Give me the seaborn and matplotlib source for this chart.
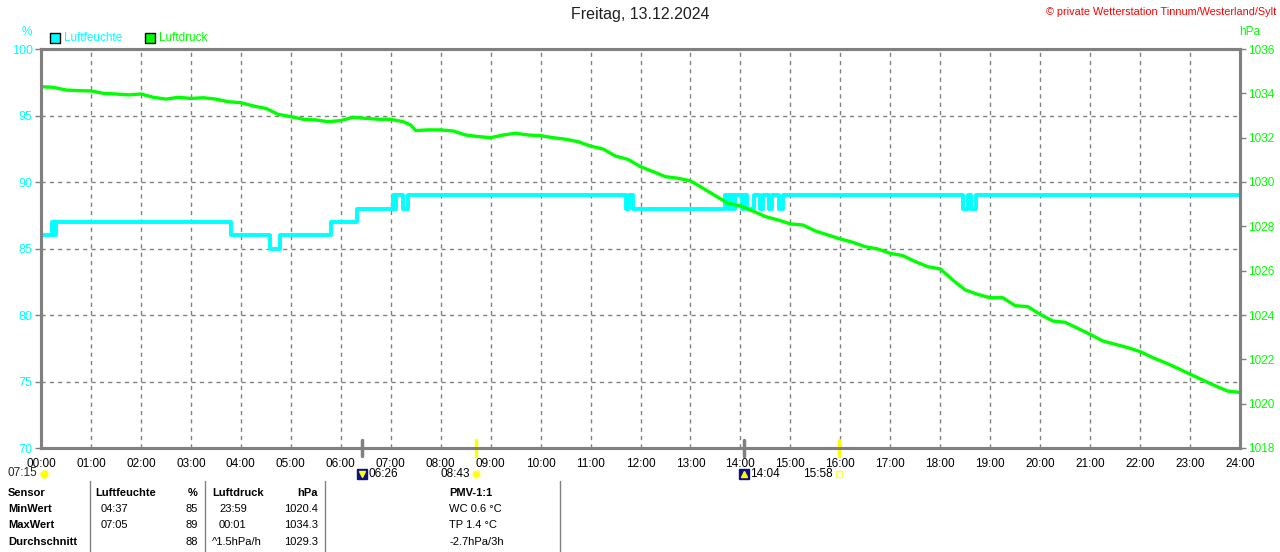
import matplotlib
matplotlib.use("Agg")
import matplotlib.pyplot as plt
import matplotlib.transforms as mtransforms
from matplotlib.lines import Line2D
from matplotlib.patches import Rectangle
import seaborn as sns
import pandas as pd

# ---------------- data ----------------
hour_ticks = list(range(0, 25))
hour_labels = [f"{h:02d}:00" for h in hour_ticks]

hum_t = [0.0, 0.22, 0.27, 0.31, 3.80, 4.58, 4.78, 5.80, 6.33,
         7.05, 7.09, 7.11, 7.24, 7.35, 11.71, 11.76, 11.84,
         13.69, 13.76, 13.79, 13.86, 13.90, 14.04, 14.08, 14.14, 14.28,
         14.40, 14.46, 14.57, 14.64, 14.77, 14.86,
         18.46, 18.55, 18.62, 18.72, 23.98]
hum_v = [86, 87, 86, 87, 86, 85, 86, 87, 88,
         89, 88, 89, 88, 89, 88, 89, 88,
         89, 88, 89, 88, 89, 88, 89, 88, 89,
         88, 89, 88, 89, 88, 89,
         88, 89, 88, 89, 89]

p_t = [0.0, 0.25, 0.5, 0.75, 1.0, 1.25, 1.5, 1.75, 2.0, 2.25, 2.5, 2.75,
       3.0, 3.25, 3.5, 3.75, 4.0, 4.25, 4.5, 4.75, 5.0, 5.25, 5.5, 5.75,
       6.0, 6.25, 6.5, 6.75, 7.0, 7.25, 7.4, 7.5, 7.75,
       8.0, 8.25, 8.5, 8.75, 9.0, 9.25, 9.5, 9.75, 10.0, 10.25, 10.5, 10.75,
       11.0, 11.25, 11.5, 11.75, 12.0, 12.25, 12.5, 12.75, 13.0, 13.25, 13.5,
       13.75, 14.0, 14.25, 14.5, 14.75, 15.0, 15.25, 15.5, 15.75,
       16.0, 16.25, 16.5, 16.75, 17.0, 17.25, 17.5, 17.75, 18.0, 18.25, 18.5,
       18.75, 19.0, 19.25, 19.5, 19.75, 20.0, 20.25, 20.5, 20.75, 21.0, 21.25,
       21.5, 21.75, 22.0, 22.25, 22.5, 22.75, 23.0, 23.25, 23.5, 23.75, 23.98]
p_v = [1034.30, 1034.27, 1034.15, 1034.12, 1034.11, 1034.00, 1033.97, 1033.93,
       1033.97, 1033.82, 1033.74, 1033.82, 1033.77, 1033.80, 1033.74, 1033.62,
       1033.58, 1033.43, 1033.32, 1033.05, 1032.95, 1032.83, 1032.80, 1032.72,
       1032.77, 1032.92, 1032.87, 1032.83, 1032.83, 1032.72, 1032.57, 1032.32,
       1032.35,
       1032.35, 1032.30, 1032.12, 1032.05, 1032.00, 1032.12, 1032.20, 1032.12,
       1032.09, 1032.00, 1031.93, 1031.82, 1031.62, 1031.49, 1031.17, 1031.02,
       1030.69, 1030.47, 1030.24, 1030.17, 1030.05, 1029.72, 1029.38, 1029.04,
       1028.92, 1028.69, 1028.44, 1028.29, 1028.11, 1028.06, 1027.79, 1027.61,
       1027.43, 1027.28, 1027.08, 1026.98, 1026.78, 1026.68, 1026.41, 1026.18,
       1026.08, 1025.58, 1025.13, 1024.93, 1024.78, 1024.78, 1024.42, 1024.38,
       1024.03, 1023.73, 1023.67, 1023.40, 1023.13, 1022.83, 1022.68, 1022.53,
       1022.35, 1022.08, 1021.85, 1021.60, 1021.33, 1021.07, 1020.81, 1020.57,
       1020.51]

hum_ticks = [70, 75, 80, 85, 90, 95, 100]
p_ticks = [1018, 1020, 1022, 1024, 1026, 1028, 1030, 1032, 1034, 1036]

# sun / moon events
event_times = [6 + 26 / 60, 8 + 43 / 60, 14 + 4 / 60, 15 + 58 / 60]
event_labels = ["06:26", "08:43", "14:04", "15:58"]
event_kinds = ["moon", "sun", "moon", "sun"]
daylen_label = "07:15"

title = "Freitag, 13.12.2024"
copyright_text = "\u00a9 private Wetterstation Tinnum/Westerland/Sylt"

table_rows = [
    ["Sensor", "Luftfeuchte", "%", "Luftdruck", "hPa", "PMV-1:1"],
    ["MinWert", "04:37", "85", "23:59", "1020.4", "WC 0.6 \u00b0C"],
    ["MaxWert", "07:05", "89", "00:01", "1034.3", "TP 1.4 \u00b0C"],
    ["Durchschnitt", "", "88", "^1.5hPa/h", "1029.3", "-2.7hPa/3h"],
]

# ---------------- style ----------------
sns.set_theme(style="white")
plt.rcParams["font.family"] = ["Liberation Sans", "DejaVu Sans"]

CYAN = "#00FFFF"
GREEN = "#00FF00"
GRAY = "#808080"

W, H = 1280, 552
fig = plt.figure(figsize=(W / 100, H / 100), dpi=100)
fig.patch.set_facecolor("white")

def fx(px):
    return px / W

def fy(py):
    return 1 - py / H

ax = fig.add_axes([fx(41), fy(448), fx(1240) - fx(41), fy(49) - fy(448)])
ax.set_facecolor("white")
ax2 = ax.twinx()

hum_df = pd.DataFrame({"t": hum_t, "v": hum_v})
p_df = pd.DataFrame({"t": p_t, "v": p_v})

sns.lineplot(data=hum_df, x="t", y="v", ax=ax, color=CYAN, linewidth=2.8,
             drawstyle="steps-post", estimator=None, legend=False)
sns.lineplot(data=p_df, x="t", y="v", ax=ax2, color=GREEN, linewidth=2.4,
             estimator=None, legend=False)

ax.set_xlim(0, 24)
ax.set_ylim(70, 100)
ax2.set_ylim(1018, 1036)
ax.set_xlabel("")
ax.set_ylabel("")
ax2.set_ylabel("")

ax.set_xticks(hour_ticks)
ax.set_xticklabels(hour_labels)
ax.set_yticks(hum_ticks)
ax.set_yticklabels([str(v) for v in hum_ticks])
ax2.set_yticks(p_ticks)
ax2.set_yticklabels([str(v) for v in p_ticks])

ax.tick_params(axis="x", length=0, pad=7, labelsize=8.5, labelcolor="black")
ax.tick_params(axis="y", left=True, length=4, width=1, color=GRAY, pad=2,
               labelsize=9, labelcolor=CYAN)
ax2.tick_params(axis="y", right=True, length=4, width=1, color=GRAY, pad=2,
                labelsize=8.5, labelcolor=GREEN)

ax.grid(True, axis="both", color=GRAY, linestyle=(0, (3, 3)), linewidth=1)
ax.set_axisbelow(True)
ax2.grid(False)

for a in (ax, ax2):
    for s in a.spines.values():
        s.set_color(GRAY)
        s.set_linewidth(2.2)
        s.set_visible(True)

# events under the x axis
trans = mtransforms.blended_transform_factory(ax.transData, ax.transAxes)
for t, lab, kind in zip(event_times, event_labels, event_kinds):
    col = GRAY if kind == "moon" else "#FFFF00"
    ax.plot([t, t], [-0.02, 0.02], transform=trans, color=col, linewidth=2.5,
            clip_on=False, zorder=5)
    if kind == "moon":
        ax.plot([t], [-0.064], transform=trans, marker="s", markersize=7,
                color="#101080", clip_on=False)
        ax.plot([t], [-0.064], transform=trans, marker="v" if t < 12 else "^",
                markersize=4, color="#FFFF00", clip_on=False)
        ax.text(t + 0.12, -0.064, lab, transform=trans, ha="left", va="center",
                fontsize=8.5, color="black")
    else:
        ax.plot([t], [-0.064], transform=trans, marker="o" if t < 12 else "s",
                markersize=5 if t < 12 else 4,
                markerfacecolor="#FFFF00" if t < 12 else "none",
                markeredgecolor="#FFFF40", clip_on=False)
        ax.text(t - 0.12, -0.064, lab, transform=trans, ha="right", va="center",
                fontsize=8.5, color="black")

fig.text(fx(37), fy(473), daylen_label, ha="right", va="center", fontsize=8.5)
fig.add_artist(Line2D([fx(44)], [fy(474)], marker="o", markersize=5,
                      color="#FFFF00", transform=fig.transFigure))

# title, copyright, units, legend
fig.text(0.5, fy(15), title, ha="center", va="center", fontsize=11.5, color="#202020")
fig.text(fx(1276), fy(12), copyright_text, ha="right", va="center",
         fontsize=7.8, color="#FF0000")
fig.text(fx(27), fy(32), "%", ha="center", va="center", fontsize=8.5, color=CYAN)
fig.text(fx(1250), fy(32), "hPa", ha="center", va="center", fontsize=8.5, color=GREEN)

for x0, col, lab in [(50, CYAN, "Luftfeuchte"), (145, GREEN, "Luftdruck")]:
    fig.add_artist(Rectangle((fx(x0), fy(43)), fx(10), fy(33) - fy(43),
                             facecolor=col, edgecolor="black", linewidth=1,
                             transform=fig.transFigure))
    fig.text(fx(x0 + 14), fy(38), lab, ha="left", va="center", fontsize=8.5, color=col)

# bottom table
for xs in [90, 205, 325, 560]:
    fig.add_artist(Line2D([fx(xs), fx(xs)], [fy(481), fy(552)], color=GRAY,
                          linewidth=1, transform=fig.transFigure))

row_y = [493, 509, 525, 542]
col_spec = [(8, "left"), (101, "left"), (198, "right"), (219, "left"),
            (318, "right"), (449, "left")]
header_x = [8, 95, 198, 212, 318, 449]
for r, (row, yy) in enumerate(zip(table_rows, row_y)):
    for c, txt in enumerate(row):
        x, ha = col_spec[c]
        if r == 0:
            x = header_x[c]
        if r == 3 and c == 3:
            x = 212
        bold = (r == 0) or (c == 0)
        fig.text(fx(x), fy(yy), txt, ha=ha, va="center", fontsize=8,
                 fontweight="bold" if bold else "normal", color="black")

fig.savefig("out.png", dpi=100, facecolor="white")
